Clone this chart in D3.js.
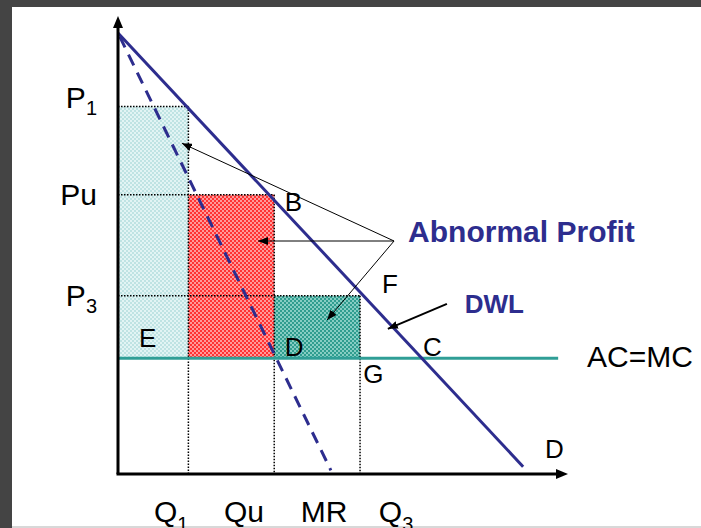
<!DOCTYPE html>
<html>
<head>
<meta charset="utf-8">
<script src="https://cdn.jsdelivr.net/npm/d3@7"></script>
<style>
  body { margin: 0; background: #444; }
  text { font-family: "Liberation Sans", Arial, sans-serif; }
</style>
</head>
<body>
<div id="chart"></div>
<script>
// monopoly diagram: demand, MR, AC=MC and the three price/quantity pairs
var demand = [[0, 12], [11.8, 0.2]];
var marginalRevenue = [[0, 12], [6.2, 0.1]];
var costLevel = 3.15;
var quantities = [2.05, 4.55, 7.05];       // Q1, Qu, Q3
var prices = [10.0, 7.6, 4.85];            // P1, Pu, P3
var priceLabels = [["P", "1"], ["Pu", ""], ["P", "3"]];
var bottomLabels = [["Q", "1", 1.55], ["Qu", "", 3.67], ["MR", "", 6.0], ["Q", "3", 8.1]];
var pointLabels = [["B", 4.86, 7.16], ["C", 8.88, 3.21], ["D", 4.86, 3.21], ["E", 0.61, 3.46],
                   ["F", 7.69, 4.93], ["G", 7.14, 2.48], ["D", 12.44, 0.44]];
// arrows: from -> to
var profitArrows = [[[8.04, 6.34], [1.86, 9.0]], [[8.04, 6.34], [4.08, 6.34]], [[8.04, 6.34], [6.09, 4.19]]];
var dwlArrow = [[9.58, 4.63], [7.86, 3.95]];

var width = 701, height = 528;
var navy = "#2d2d8e", teal = "#2f9e96";

var svg = d3.select("#chart").append("svg")
    .attr("width", width)
    .attr("height", height);

svg.append("rect").attr("width", width).attr("height", height).attr("fill", "#444");
svg.append("rect").attr("x", 12).attr("y", 7).attr("width", width - 12).attr("height", 520).attr("fill", "#fff");
svg.append("rect").attr("x", 12).attr("y", 526).attr("width", width - 12).attr("height", 2).attr("fill", "#d8d8d8");

var x = d3.scaleLinear().domain([0, 12]).range([118, 530]);
var y = d3.scaleLinear().domain([0, 12]).range([474, 33]);

var defs = svg.append("defs");
function checker(id, base, dot) {
    var p = defs.append("pattern").attr("id", id)
        .attr("width", 4).attr("height", 4).attr("patternUnits", "userSpaceOnUse");
    p.append("rect").attr("width", 4).attr("height", 4).attr("fill", base);
    p.append("rect").attr("width", 2).attr("height", 2).attr("fill", dot);
    p.append("rect").attr("x", 2).attr("y", 2).attr("width", 2).attr("height", 2).attr("fill", dot);
}
checker("blue", "#e2f4f4", "#bfe3e3");
checker("red", "#ff3333", "#ff9a9a");
checker("green", "#2f9d8f", "#86cdc3");

defs.append("marker").attr("id", "head")
    .attr("viewBox", "0 0 10 8").attr("refX", 10).attr("refY", 4)
    .attr("markerWidth", 10).attr("markerHeight", 8)
    .attr("markerUnits", "userSpaceOnUse").attr("orient", "auto")
    .append("path").attr("d", "M0,0L10,4L0,8Z").attr("fill", "#000");

// shaded areas
var fills = ["url(#blue)", "url(#red)", "url(#green)"];
var lefts = [0, quantities[0], quantities[1]];
for (var i = 0; i < 3; i++) {
    svg.append("rect")
        .attr("x", x(lefts[i]))
        .attr("y", y(prices[i]))
        .attr("width", x(quantities[i]) - x(lefts[i]))
        .attr("height", y(costLevel) - y(prices[i]))
        .attr("fill", fills[i]);
}

// dotted guides
var dotted = svg.append("g").attr("stroke", "#000").attr("stroke-width", 1.5)
    .attr("stroke-dasharray", "1.5,1.5");
for (var i = 0; i < 3; i++) {
    dotted.append("line")
        .attr("x1", x(0)).attr("x2", x(quantities[i]))
        .attr("y1", y(prices[i])).attr("y2", y(prices[i]));
    dotted.append("line")
        .attr("x1", x(quantities[i])).attr("x2", x(quantities[i]))
        .attr("y1", y(prices[i])).attr("y2", y(0));
}

// AC=MC
svg.append("line")
    .attr("x1", x(0)).attr("x2", x(12.82))
    .attr("y1", y(costLevel)).attr("y2", y(costLevel))
    .attr("stroke", teal).attr("stroke-width", 3);

var line = d3.line().x(function(d) { return x(d[0]); }).y(function(d) { return y(d[1]); });
svg.append("path").datum(demand).attr("d", line)
    .attr("fill", "none").attr("stroke", navy).attr("stroke-width", 3);
svg.append("path").datum(marginalRevenue).attr("d", line)
    .attr("fill", "none").attr("stroke", navy).attr("stroke-width", 3)
    .attr("stroke-dasharray", "12,8").attr("stroke-dashoffset", -4);

// axes
var axes = svg.append("g").attr("stroke", "#000").attr("stroke-width", 3);
axes.append("line").attr("x1", x(0)).attr("y1", y(0)).attr("x2", x(0)).attr("y2", 26);
axes.append("line").attr("x1", x(0) - 1.5).attr("y1", y(0)).attr("x2", 558).attr("y2", y(0));
svg.append("path").attr("d", "M" + x(0) + ",16L" + (x(0) - 5) + ",28L" + (x(0) + 5) + ",28Z");
svg.append("path").attr("d", "M568," + y(0) + "L556," + (y(0) - 5) + "L556," + (y(0) + 5) + "Z");

// annotation arrows
profitArrows.forEach(function(a) {
    svg.append("line")
        .attr("x1", x(a[0][0])).attr("y1", y(a[0][1]))
        .attr("x2", x(a[1][0])).attr("y2", y(a[1][1]))
        .attr("stroke", "#000").attr("stroke-width", 1)
        .attr("marker-end", "url(#head)");
});
svg.append("line")
    .attr("x1", x(dwlArrow[0][0])).attr("y1", y(dwlArrow[0][1]))
    .attr("x2", x(dwlArrow[1][0])).attr("y2", y(dwlArrow[1][1]))
    .attr("stroke", "#000").attr("stroke-width", 2)
    .attr("marker-end", "url(#head)");

// labels
var nudge = [-9, 0, 0];
priceLabels.forEach(function(l, i) {
    var t = svg.append("text")
        .attr("x", 97).attr("y", y(prices[i]) + 10 + nudge[i])
        .attr("text-anchor", "end").attr("font-size", 30);
    t.append("tspan").text(l[0]);
    if (l[1]) t.append("tspan").attr("font-size", 20).attr("dy", 7).text(l[1]);
});
bottomLabels.forEach(function(l) {
    var t = svg.append("text")
        .attr("x", x(l[2])).attr("y", 522)
        .attr("text-anchor", "middle").attr("font-size", 30);
    t.append("tspan").text(l[0]);
    if (l[1]) t.append("tspan").attr("font-size", 20).attr("dy", 9).text(l[1]);
});
pointLabels.forEach(function(l) {
    svg.append("text")
        .attr("x", x(l[1])).attr("y", y(l[2]))
        .attr("font-size", 26).text(l[0]);
});

svg.append("text").attr("x", x(8.45)).attr("y", y(6.31))
    .attr("font-size", 30).attr("font-weight", "bold").attr("fill", navy)
    .text("Abnormal Profit");
svg.append("text").attr("x", x(10.1)).attr("y", y(4.38))
    .attr("font-size", 26).attr("font-weight", "bold").attr("fill", navy)
    .text("DWL");
svg.append("text").attr("x", x(13.66)).attr("y", y(2.91))
    .attr("font-size", 30).text("AC=MC");
</script>
</body>
</html>
